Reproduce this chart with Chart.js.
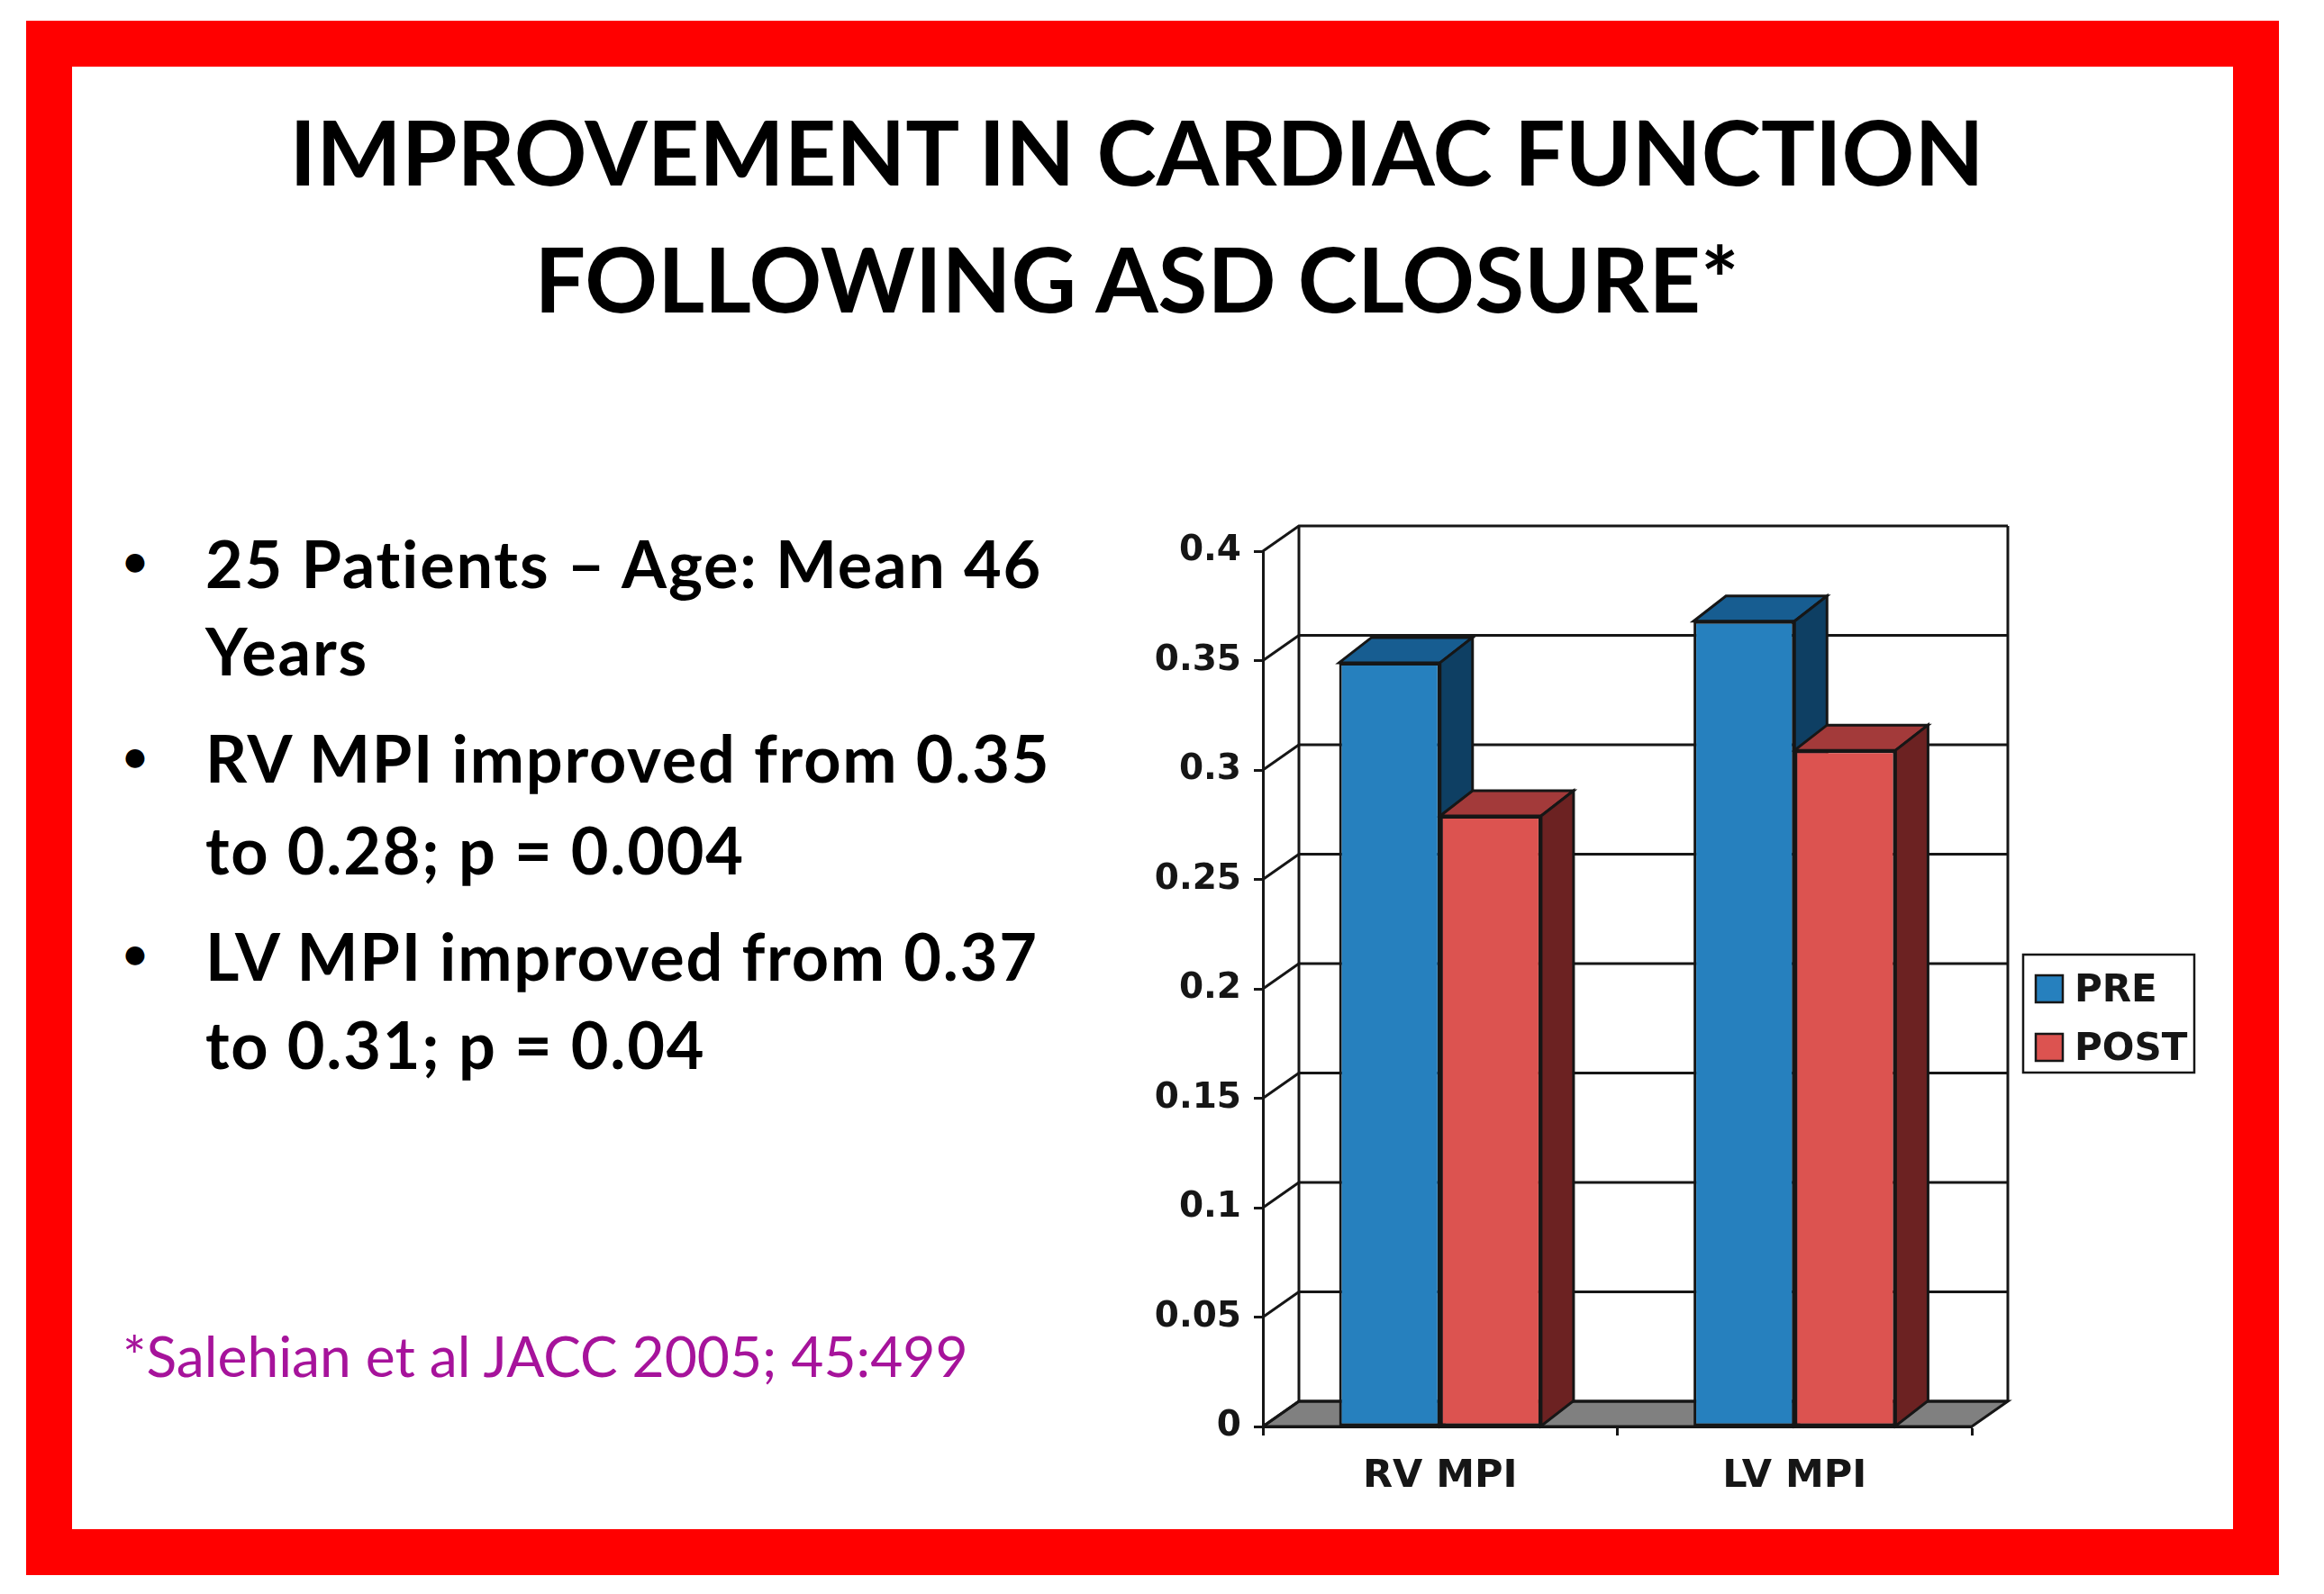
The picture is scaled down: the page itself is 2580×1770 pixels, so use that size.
<!DOCTYPE html>
<html>
<head>
<meta charset="utf-8">
<script src="https://cdn.jsdelivr.net/npm/chart.js@4"></script>
<style>
  html, body { margin: 0; padding: 0; background: #fff; }
  #slide { position: relative; width: 2580px; height: 1770px; overflow: hidden; background: #fff; }
  #frame { position: absolute; left: 29px; top: 23px; width: 2399px; height: 1624px; border: 51px solid #ff0000; }
  #chart { position: absolute; left: 0; top: 0; }
  .t { position: absolute; white-space: nowrap; line-height: 1; font-family: Lato, sans-serif; color: #000; font-variant-ligatures: none; }
  .title { font-size: 100px; font-weight: 700; width: 2580px; left: -28px; text-align: center; }
  .body { font-size: 72px; font-weight: 700; left: 228px; letter-spacing: 1.8px; }
  .dot { font-size: 48px; font-weight: 700; left: 136px; }
  .ref { font-size: 62.3px; left: 136px; top: 1474px; color: #a6139b; }
</style>
</head>
<body>
<div id="slide">
  <div id="frame"></div>
  <div class="t title" style="top:117px">IMPROVEMENT IN CARDIAC FUNCTION</div>
  <div class="t title" style="top:258px">FOLLOWING ASD CLOSURE*</div>

  <div class="t dot" style="top:598px">•</div>
  <div class="t body" style="top:589px">25 Patients – Age: Mean 46</div>
  <div class="t body" style="top:686px">Years</div>
  <div class="t dot" style="top:815px">•</div>
  <div class="t body" style="top:805px">RV MPI improved from 0.35</div>
  <div class="t body" style="top:907px">to 0.28; p = 0.004</div>
  <div class="t dot" style="top:1034px">•</div>
  <div class="t body" style="top:1025px">LV MPI improved from 0.37</div>
  <div class="t body" style="top:1123px">to 0.31; p = 0.04</div>

  <div class="t ref">*Salehian et al JACC 2005; 45:499</div>
  <canvas id="chart" width="2580" height="1770"></canvas>
</div>

<script>
const categories = ['RV MPI', 'LV MPI'];
const preValues = [0.349, 0.368];
const postValues = [0.279, 0.309];
const yTickLabels = ['0', '0.05', '0.1', '0.15', '0.2', '0.25', '0.3', '0.35', '0.4'];

const chartFont = 'DejaVu Sans';
const ink = '#161616';

// the fake 3D look: how far back the walls and the bars go
const wallDepth = { x: 40, y: 28 };
const barDepth = { x: 36, y: 28 };

const shades = [
  { top: '#175d91', side: '#0e3f63' },
  { top: '#a33a3a', side: '#6c2222' }
];

function poly(ctx, pts, fill) {
  ctx.beginPath();
  pts.forEach((p, i) => (i ? ctx.lineTo(p[0], p[1]) : ctx.moveTo(p[0], p[1])));
  ctx.closePath();
  if (fill) {
    ctx.fillStyle = fill;
    ctx.fill();
  }
  ctx.stroke();
}

const depthPlugin = {
  id: 'depth',
  beforeDatasetsDraw(chart) {
    const ctx = chart.ctx;
    const { left, right, top, bottom } = chart.chartArea;
    const y = chart.scales.y;
    const dx = wallDepth.x, dy = wallDepth.y;

    ctx.save();
    ctx.strokeStyle = ink;
    ctx.lineWidth = 3;

    // floor
    poly(ctx, [[left, bottom], [left + dx, bottom - dy], [right + dx, bottom - dy], [right, bottom]], '#808080');

    // gridlines run across the side wall and then the back wall
    y.ticks.forEach((tick) => {
      const py = y.getPixelForValue(tick.value);
      ctx.beginPath();
      ctx.moveTo(left, py);
      ctx.lineTo(left + dx, py - dy);
      ctx.lineTo(right + dx, py - dy);
      ctx.stroke();
    });

    ctx.beginPath();
    ctx.moveTo(left + dx, top - dy);
    ctx.lineTo(left + dx, bottom - dy);
    ctx.moveTo(right + dx, top - dy);
    ctx.lineTo(right + dx, bottom - dy);
    ctx.stroke();

    // top and side faces, the library draws the front faces over them
    chart.data.datasets.forEach((ds, i) => {
      chart.getDatasetMeta(i).data.forEach((bar) => {
        const l = bar.x - bar.width / 2, r = bar.x + bar.width / 2;
        const bx = barDepth.x, by = barDepth.y;
        poly(ctx, [[l, bar.y], [l + bx, bar.y - by], [r + bx, bar.y - by], [r, bar.y]], shades[i].top);
        poly(ctx, [[r, bar.y], [r + bx, bar.y - by], [r + bx, bar.base - by], [r, bar.base]], shades[i].side);
      });
    });
    ctx.restore();
  },
  afterDraw(chart) {
    // boxed legend, the built-in one leaves too wide a gap after the swatch
    const ctx = chart.ctx;
    ctx.save();
    ctx.strokeStyle = ink;
    ctx.lineWidth = 2.5;
    ctx.strokeRect(2246, 1060, 190, 131);
    ctx.font = 'bold 42px ' + chartFont;
    chart.data.datasets.forEach((ds, i) => {
      const rowY = 1083 + i * 65;
      ctx.fillStyle = ds.backgroundColor;
      ctx.fillRect(2260, rowY, 30, 30);
      ctx.strokeRect(2260, rowY, 30, 30);
      ctx.fillStyle = ink;
      ctx.fillText(ds.label, 2303, rowY + 29);
    });
    ctx.restore();
  }
};

new Chart(document.getElementById('chart'), {
  type: 'bar',
  plugins: [depthPlugin],
  data: {
    labels: categories,
    datasets: [
      { label: 'PRE', data: preValues, backgroundColor: '#2680be' },
      { label: 'POST', data: postValues, backgroundColor: '#dc5350' }
    ]
  },
  options: {
    responsive: false,
    animation: false,
    devicePixelRatio: 1,
    layout: { padding: { left: 1262, top: 612, right: 391, bottom: 86 } },
    datasets: {
      bar: {
        categoryPercentage: 0.57,
        barPercentage: 1,
        borderColor: ink,
        borderWidth: 3,
        borderSkipped: false
      }
    },
    plugins: {
      title: { display: false },
      tooltip: { enabled: false },
      legend: { display: false }
    },
    scales: {
      x: {
        afterFit(scale) { scale.height = 100; },
        grid: { drawOnChartArea: false, tickLength: 10, tickColor: ink, tickWidth: 3 },
        border: { color: ink, width: 3 },
        ticks: { color: ink, padding: 20, font: { family: chartFont, size: 43, weight: 'bold' } }
      },
      y: {
        min: 0,
        max: 0.4,
        afterFit(scale) { scale.width = 140; },
        grid: { drawOnChartArea: false, tickLength: 10, tickColor: ink, tickWidth: 3 },
        border: { color: ink, width: 3 },
        ticks: {
          stepSize: 0.05,
          padding: 14,
          color: ink,
          font: { family: chartFont, size: 39, weight: 'bold' },
          callback: (value, index) => yTickLabels[index]
        }
      }
    }
  }
});
</script>
</body>
</html>
